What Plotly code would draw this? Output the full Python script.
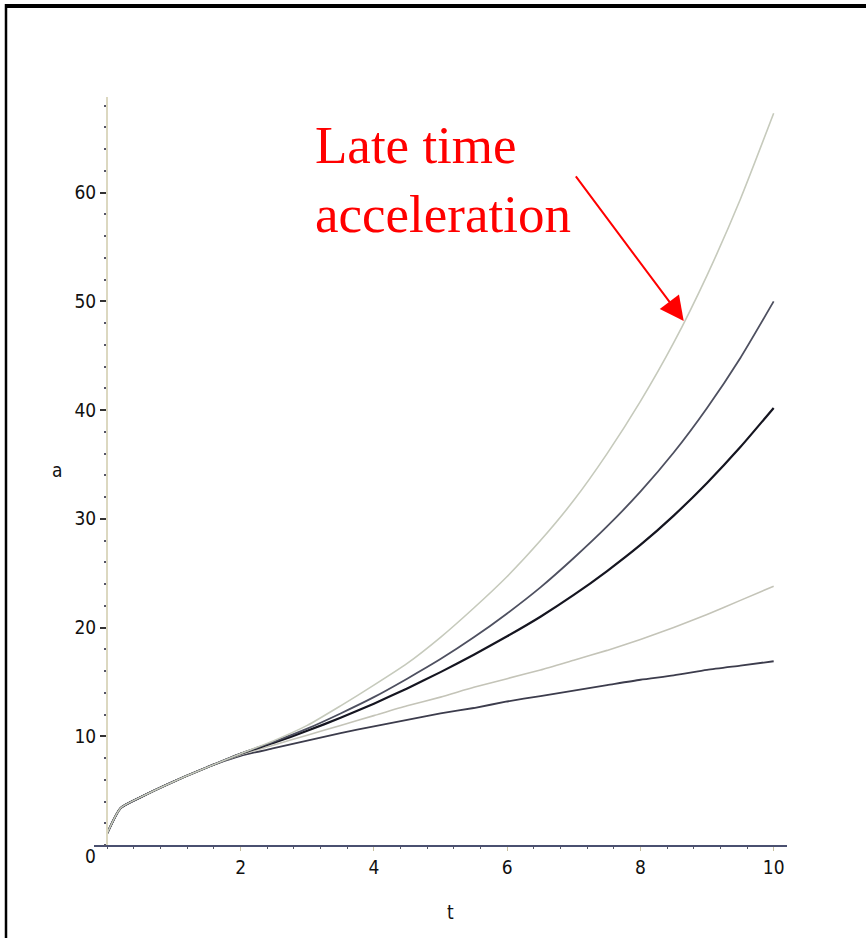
import plotly.graph_objects as go

# ---- data ----
t = [0, 0.2, 0.5, 1, 1.5, 2, 2.5, 3, 3.5, 4, 4.5, 5, 5.5, 6, 6.5, 7, 7.5, 8, 8.5, 9, 9.5, 10]
a_top = [1.1, 3.4, 4.4, 5.85, 7.15, 8.4, 9.6, 11.0, 12.8, 14.7, 16.7, 19.1, 21.8, 24.7, 28.0, 31.7, 36.0, 40.8, 46.2, 52.4, 59.4, 67.3]
a_second = [1.1, 3.4, 4.4, 5.85, 7.15, 8.4, 9.5, 10.7, 12.1, 13.6, 15.3, 17.1, 19.1, 21.3, 23.7, 26.4, 29.3, 32.5, 36.1, 40.2, 44.8, 50.0]
a_middle = [1.1, 3.4, 4.4, 5.85, 7.15, 8.4, 9.4, 10.5, 11.7, 13.0, 14.4, 15.9, 17.5, 19.2, 21.0, 23.0, 25.2, 27.6, 30.3, 33.3, 36.6, 40.2]
a_fourth = [1.1, 3.4, 4.4, 5.85, 7.15, 8.3, 9.2, 10.1, 11.0, 11.9, 12.8, 13.6, 14.5, 15.3, 16.1, 17.0, 17.9, 18.9, 20.0, 21.2, 22.5, 23.8]
a_bottom = [1.1, 3.4, 4.4, 5.85, 7.15, 8.2, 8.9, 9.6, 10.3, 10.9, 11.5, 12.1, 12.6, 13.2, 13.7, 14.2, 14.7, 15.2, 15.6, 16.1, 16.5, 16.9]

x_ticks = [2, 4, 6, 8, 10]
y_ticks = [10, 20, 30, 40, 50, 60]

series = [
    (a_bottom, "#3c3c4c", 1.8),
    (a_fourth, "#c4c4b8", 1.6),
    (a_middle, "#151520", 2.2),
    (a_second, "#4e5060", 1.8),
    (a_top, "#c6cabc", 1.6),
]

W, H = 866, 938
L, R, T, B = 94, 79, 97, 93
PW, PH = W - L - R, H - T - B


def px(p):
    return (p - L) / PW


def py(p):
    return (H - B - p) / PH


fig = go.Figure()
for vals, col, w in series:
    fig.add_trace(go.Scatter(x=t, y=vals, mode="lines",
                             line=dict(color=col, width=w, shape="spline", smoothing=0.6),
                             showlegend=False, hoverinfo="skip"))

tick_font = dict(family="Liberation Sans Narrow, DejaVu Sans Condensed, Arial Narrow, Liberation Sans, sans-serif",
                 size=19, color="#111111")

fig.update_layout(
    width=W, height=H,
    margin=dict(l=L, r=R, t=T, b=B, pad=0),
    paper_bgcolor="white", plot_bgcolor="white",
    xaxis=dict(range=[-0.2, 10.2], showgrid=False, zeroline=False,
               showline=True, linecolor="#4a5070", linewidth=2,
               tickmode="array", tickvals=x_ticks, ticktext=[str(v) for v in x_ticks],
               ticks="outside", ticklen=4, tickcolor="#c8c0a0", tickwidth=1,
               minor=dict(tickmode="linear", tick0=0, dtick=0.4, ticks="outside",
                          ticklen=2, tickcolor="#555566"),
               tickfont=tick_font, fixedrange=True),
    yaxis=dict(range=[0, 68.8], showgrid=False, zeroline=False,
               anchor="free", position=px(107),
               showline=True, linecolor="#dcd8c0", linewidth=2,
               tickmode="array", tickvals=y_ticks, ticktext=[str(v) for v in y_ticks],
               ticks="outside", ticklen=6, tickcolor="#333333", tickwidth=1.5,
               minor=dict(tickmode="linear", tick0=0, dtick=2, ticks="outside",
                          ticklen=2, tickcolor="#555566"),
               tickfont=tick_font, fixedrange=True),
)

ann = []
# zero label, axis titles
ann.append(dict(text="0", xref="paper", yref="paper", x=px(90), y=py(856), showarrow=False,
                font=tick_font, xanchor="center", yanchor="middle"))
ann.append(dict(text="a", xref="paper", yref="paper", x=px(57), y=py(470), showarrow=False,
                font=tick_font, xanchor="center", yanchor="middle"))
ann.append(dict(text="t", xref="paper", yref="paper", x=px(450), y=py(912), showarrow=False,
                font=tick_font, xanchor="center", yanchor="middle"))
# red label
ann.append(dict(text="Late time<br>acceleration", xref="paper", yref="paper",
                x=px(313), y=py(179), showarrow=False, align="left",
                xanchor="left", yanchor="middle",
                font=dict(family="Liberation Serif, Times New Roman, serif", size=53, color="#ff0000")))
# arrow
ann.append(dict(text="", x=8.65, y=48.2, xref="x", yref="y", showarrow=True,
                ax=-109, ay=-146, arrowcolor="#ff0000", arrowwidth=2,
                arrowhead=2, arrowsize=2.4, standoff=0))
fig.update_layout(annotations=ann)

# frame lines (top thick, left)
fig.add_shape(type="line", xref="paper", yref="paper", x0=px(5), x1=px(866), y0=py(6), y1=py(6),
              line=dict(color="black", width=4))
fig.add_shape(type="line", xref="paper", yref="paper", x0=px(6), x1=px(6), y0=py(4), y1=py(938),
              line=dict(color="black", width=2.5))

fig.write_html("out.html", config={"displayModeBar": False},
               post_script="document.body.style.margin='0px';document.body.style.overflow='hidden';")
